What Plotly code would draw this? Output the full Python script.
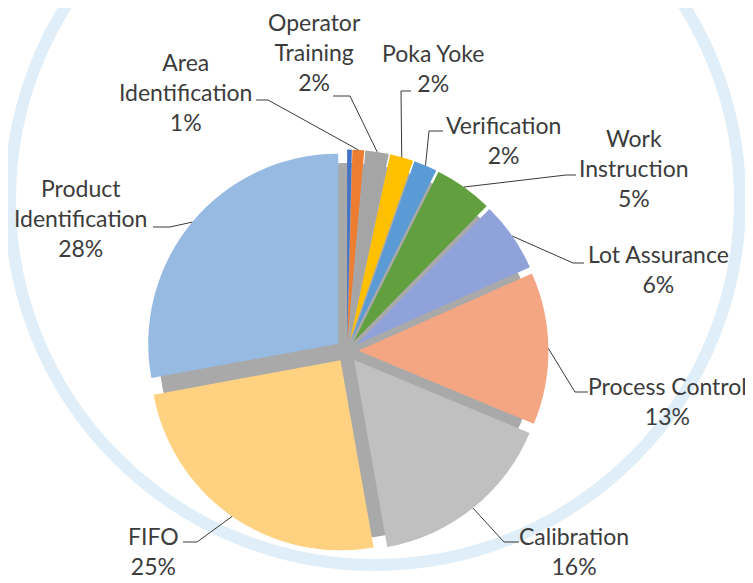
import math
import plotly.graph_objects as go

# ---- data ----
categories = ["Unlabeled", "Area Identification", "Operator Training", "Poka Yoke",
              "Verification", "Work Instruction", "Lot Assurance", "Process Control",
              "Calibration", "FIFO", "Product Identification"]
values = [0.4, 1, 2, 2, 2, 5, 6, 13, 16, 25, 28]
label_text = ["", "Area<br>Identification<br>1%", "Operator<br>Training<br>2%",
              "Poka Yoke<br>2%", "Verification<br>2%", "Work<br>Instruction<br>5%",
              "Lot Assurance<br>6%", "Process Control<br>13%", "Calibration<br>16%",
              "FIFO<br>25%", "Product<br>Identification<br>28%"]

# ---- styles / layout ----
colors = ["#4472C4", "#ED7D31", "#A5A5A5", "#FFC000", "#5B9BD5", "#62A03F",
          "#8FA3DA", "#F4A582", "#C0C0C0", "#FFD282", "#97BAE2"]
W, H = 753, 583
OFF = 8                      # page body margin
FW, FH = W - OFF, H - OFF    # figure size
CX, CY, R, PULL = 347, 351, 190, 0.06
FONT = "Lato"
TXT = "#3c3c3c"

# label block centre (px) and leader-line elbow points (px): start, elbow
label_pos = [None, (185, 92), (314, 52), (433, 68), (503, 140), (634, 168),
             (658, 269), (667, 401), (574, 551), (153, 551), (80, 218)]
elbows = [None, [(256, 100), (268, 100)], [(333, 96), (350, 96)],
          [(411, 91), (401, 91)], [(443, 131), (429, 131)],
          [(576, 175), (566, 175)], [(584, 263), (573, 263)],
          [(588, 392), (575, 392)], [(519, 542), (504, 542)],
          [(183, 542), (197, 542)], [(153, 227), (170, 227)]]

def px(x):
    return (x - OFF) / FW

def py(y):
    return 1 - (y - OFF) / FH

half = R * (1 + PULL)
fig = go.Figure()

# shadow disc under the exploded pie
fig.add_trace(go.Pie(values=[1], marker=dict(colors=["#a9a9a9"], line=dict(width=0)),
                     textinfo="none", hoverinfo="skip", showlegend=False, sort=False,
                     domain=dict(x=[px(CX - R + 2), px(CX + R - 2)],
                                 y=[py(CY + R - 2), py(CY - R + 2)])))

fig.add_trace(go.Pie(labels=categories, values=values, sort=False,
                     direction="clockwise", rotation=0,
                     pull=[PULL] * len(values),
                     marker=dict(colors=colors, line=dict(width=0)),
                     textinfo="none", showlegend=False,
                     domain=dict(x=[px(CX - half), px(CX + half)],
                                 y=[py(CY + half), py(CY - half)])))

shapes = []
# faint watermark ring
shapes.append(dict(type="circle", xref="paper", yref="paper", layer="below",
                   x0=px(375 - 365), x1=px(375 + 365), y0=py(200 + 365), y1=py(200 - 365),
                   line=dict(color="rgba(175,212,238,0.4)", width=12)))

annotations = []
total = sum(values)
cum = 0
for i, v in enumerate(values):
    mid = (cum + v / 2) / total * 2 * math.pi
    cum += v
    if not label_text[i]:
        continue
    ax = CX + (R + R * PULL) * math.sin(mid)
    ay = CY - (R + R * PULL) * math.cos(mid)
    (sx, sy), (ex, ey) = elbows[i]
    path = f"M {px(sx)},{py(sy)} L {px(ex)},{py(ey)} L {px(ax)},{py(ay)}"
    shapes.append(dict(type="path", xref="paper", yref="paper", path=path,
                       line=dict(color="#3a3a3a", width=1)))
    lx, ly = label_pos[i]
    annotations.append(dict(x=px(lx), y=py(ly), xref="paper", yref="paper",
                            text=label_text[i], showarrow=False, align="center",
                            xanchor="center", yanchor="middle", borderpad=0,
                            font=dict(family=FONT, size=23, color=TXT)))

fig.update_layout(width=FW, height=FH, margin=dict(l=0, r=0, t=0, b=0),
                  paper_bgcolor="white", plot_bgcolor="white",
                  shapes=shapes, annotations=annotations, showlegend=False)
fig.write_html("out.html")
